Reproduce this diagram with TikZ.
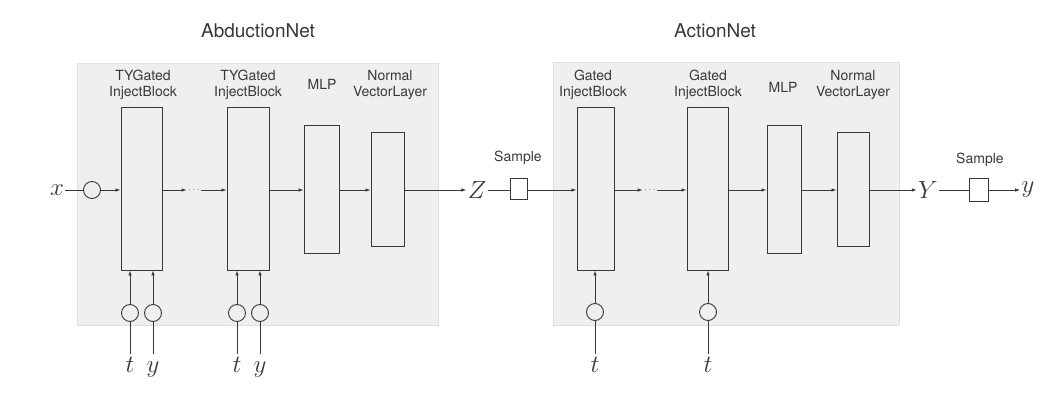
\documentclass[tikz,border=0pt]{standalone}
\usepackage{fontspec}
\setsansfont{TeX Gyre Heros}
\usetikzlibrary{arrows.meta}
\definecolor{linegray}{HTML}{383838}
\definecolor{panelfill}{HTML}{EFEFEF}
\definecolor{paneldraw}{HTML}{E0E0E0}
\tikzset{
	blk/.style = {draw, rectangle, inner sep = 0pt, line width = 0.9pt},
	circ/.style = {draw, circle, minimum size = 17pt, inner sep = 0pt, line width = 0.9pt},
	math/.style = {inner sep = 1pt, font = \fontsize{28}{32}\selectfont},
	bot/.style = {math, text height = 17pt, text depth = 5pt},
	lbl/.style = {align = center, font = \sffamily\fontsize{14}{16}\selectfont},
	ttl/.style = {font = \sffamily\fontsize{19}{22}\selectfont},
	dotsnode/.style = {inner sep = 1pt, text = gray, font = \fontsize{10}{10}\selectfont}
}
\begin{document}
\begin{tikzpicture}[x = 1pt, y = -1pt, color = linegray, line width = 0.85pt, > = {Latex[length = 5pt, width = 3.5pt]}]
					\useasboundingbox (0, 0) rectangle (1058, 398);
					% panels
					\filldraw [fill = panelfill, draw = paneldraw] (77, 63) rectangle (438, 325);
					\filldraw [fill = panelfill, draw = paneldraw] (553, 62) rectangle (899, 325);
					\node [ttl] (abdtitle) at (258, 31) {AbductionNet};
					\node [ttl] (acttitle) at (715, 31) {ActionNet};
					% AbductionNet
					\node [math] (xin) at (57, 190) {$x$};
					\node [circ] (cx) at (92, 190) {};
					\node [blk, minimum width = 41pt, minimum height = 163pt] (tyb1) at (141.5, 188.5) {};
					\node [dotsnode] (dots1) at (194, 190) {$\cdots$};
					\node [blk, minimum width = 42pt, minimum height = 163pt] (tyb2) at (248, 188.5) {};
					\node [blk, minimum width = 35pt, minimum height = 128pt] (mlpa) at (321.5, 189) {};
					\node [blk, minimum width = 33pt, minimum height = 114pt] (nvla) at (387.5, 189) {};
					\node [lbl] (tyb1lab) at (143, 85) {TYGated\\InjectBlock};
					\node [lbl] (tyb2lab) at (248, 85) {TYGated\\InjectBlock};
					\node [lbl] (mlpalab) at (322, 84) {MLP};
					\node [lbl] (nvlalab) at (390, 85) {Normal\\VectorLayer};
					\node [math] (zout) at (477, 190) {$Z$};
					\node [blk, minimum width = 17pt, minimum height = 21pt] (samplea) at (518.5, 189) {};
					\node [lbl] (samplealab) at (518, 158) {Sample};
					\node [circ] (ct1) at (130, 313) {};
					\node [circ] (cy1) at (153, 313) {};
					\node [circ] (ct2) at (237, 313) {};
					\node [circ] (cy2) at (260, 313) {};
					\node [bot] (t1) at (130, 366) {$t$};
					\node [bot] (y1) at (153, 366) {$y$};
					\node [bot] (t2) at (237, 366) {$t$};
					\node [bot] (y2) at (260, 366) {$y$};
					% ActionNet
					\node [blk, minimum width = 37pt, minimum height = 163pt] (gb1) at (595.5, 188.5) {};
					\node [dotsnode] (dots2) at (650, 190) {$\cdots$};
					\node [blk, minimum width = 41pt, minimum height = 163pt] (gb2) at (707.5, 188.5) {};
					\node [blk, minimum width = 34pt, minimum height = 128pt] (mlpb) at (784, 189) {};
					\node [blk, minimum width = 32pt, minimum height = 114pt] (nvlb) at (853, 189) {};
					\node [lbl] (gb1lab) at (593, 85) {Gated\\InjectBlock};
					\node [lbl] (gb2lab) at (708, 85) {Gated\\InjectBlock};
					\node [lbl] (mlpblab) at (783, 87) {MLP};
					\node [lbl] (nvlblab) at (853, 85) {Normal\\VectorLayer};
					\node [math] (yout) at (928, 190) {$Y$};
					\node [blk, minimum width = 19pt, minimum height = 23pt] (sampleb) at (978.5, 189.5) {};
					\node [lbl] (sampleblab) at (980, 160) {Sample};
					\node [math] (ylab) at (1028, 190) {$y$};
					\node [circ] (ct3) at (595, 312) {};
					\node [circ] (ct4) at (708, 312) {};
					\node [bot] (t3) at (595, 366) {$t$};
					\node [bot] (t4) at (708, 366) {$t$};
					% main line
					\draw (xin) to (cx);
					\draw [->] (cx) to (cx -| tyb1.west);
					\draw [->] (tyb1.east |- cx) to (dots1);
					\draw [->] (dots1) to (dots1 -| tyb2.west);
					\draw [->] (tyb2.east |- cx) to (cx -| mlpa.west);
					\draw [->] (mlpa.east |- cx) to (cx -| nvla.west);
					\draw [->] (nvla.east |- cx) to (zout);
					\draw (zout) to (zout -| samplea.west);
					\draw [->] (samplea.east |- zout) to (zout -| gb1.west);
					\draw [->] (gb1.east |- zout) to (dots2);
					\draw [->] (dots2) to (dots2 -| gb2.west);
					\draw [->] (gb2.east |- zout) to (zout -| mlpb.west);
					\draw [->] (mlpb.east |- zout) to (zout -| nvlb.west);
					\draw [->] (nvlb.east |- zout) to (yout);
					\draw (yout) to (yout -| sampleb.west);
					\draw [->] (sampleb.east |- yout) to (ylab);
					% inputs
					\foreach \c/\b/\l in {ct1/tyb1/t1, cy1/tyb1/y1, ct2/tyb2/t2, cy2/tyb2/y2, ct3/gb1/t3, ct4/gb2/t4} {
						\draw (\l) to (\c);
						\draw [->] (\c) to (\c |- \b.south);
					}
				\end{tikzpicture}
\end{document}
